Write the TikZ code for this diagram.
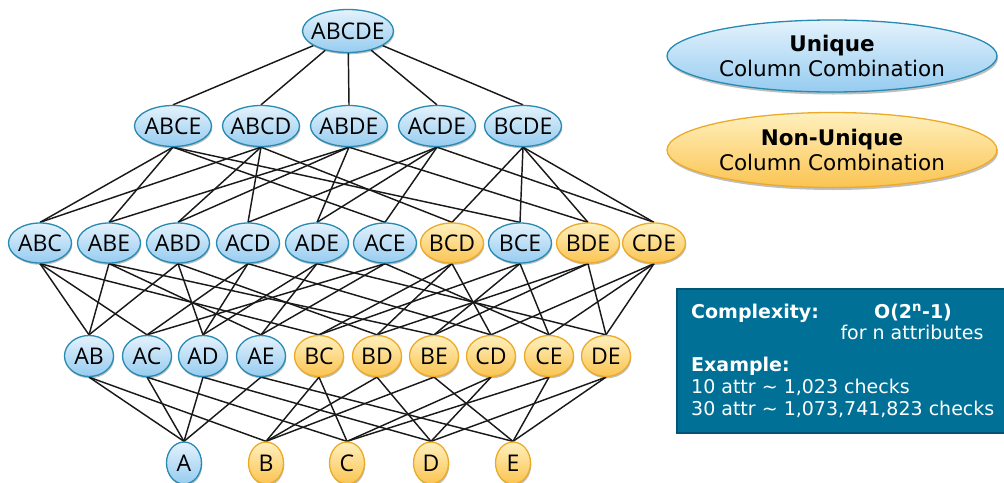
\documentclass[tikz,border=0pt]{standalone}
\usepackage{fontspec}
\setmainfont{DejaVu Sans}
\newfontfamily\nodefont{Open Sans}
\usetikzlibrary{shapes.geometric,shadows}
\definecolor{ubT}{RGB}{228,242,252}
\definecolor{ubD}{RGB}{150,204,240}
\definecolor{ubB}{RGB}{38,138,178}
\definecolor{yT}{RGB}{255,240,190}
\definecolor{yD}{RGB}{250,196,82}
\definecolor{yB}{RGB}{236,170,40}
\definecolor{boxfill}{RGB}{0,112,150}
\definecolor{boxline}{RGB}{0,84,116}
\pgfdeclarelayer{bg}
\pgfsetlayers{bg,main}
\begin{document}
\begin{tikzpicture}[x=1pt,y=-1pt,
  cc/.style={ellipse, draw, line width=1.3pt, inner xsep=-12pt, inner ysep=-6pt,
    font=\nodefont\fontsize{23}{26}\selectfont,
    drop shadow={shadow xshift=0.8pt, shadow yshift=-1.8pt, opacity=0.25, fill=black}},
  uq/.style={cc, draw=ubB, top color=ubT, bottom color=ubD},
  nu/.style={cc, draw=yB, top color=yT, bottom color=yD},
  wfive/.style={minimum width=91pt, minimum height=43pt},
  wfour/.style={minimum width=77pt, minimum height=41pt},
  wthree/.style={minimum width=63pt, minimum height=40pt},
  wtwo/.style={minimum width=49pt, minimum height=41pt},
  wone/.style={minimum width=35pt, minimum height=42pt},
  edge/.style={line width=1.45pt, draw=black!90},
  legend/.style={ellipse, line width=1.3pt, minimum width=330pt, align=center,
    font=\fontsize{21.5}{25.5}\selectfont, inner sep=0pt,
    drop shadow={shadow xshift=1pt, shadow yshift=-2.5pt, opacity=0.25, fill=black}},
  boxtxt/.style={text=white, inner sep=0pt, font=\fontsize{19}{22}\selectfont}
]
\useasboundingbox (0,0) rectangle (1004,482);

% level 5
\node[uq,wfive] (ABCDE) at (348,31) {ABCDE};
% level 4
\foreach \n/\x in {ABCE/173, ABCD/261, ABDE/349, ACDE/437, BCDE/523}
  \node[uq,wfour] (\n) at (\x,126) {\n};
% level 3
\foreach \n/\x/\s in {ABC/40/uq, ABE/109/uq, ABD/178/uq, ACD/248/uq, ADE/317/uq,
    ACE/385/uq, BCD/452/nu, BCE/520/uq, BDE/588/nu, CDE/654/nu}
  \node[\s,wthree] (\n) at (\x,243) {\n};
% level 2
\foreach \n/\x/\s in {AB/89/uq, AC/147/uq, AD/203/uq, AE/261/uq, BC/319/nu,
    BD/377/nu, BE/434/nu, CD/491/nu, CE/549/nu, DE/606/nu}
  \node[\s,wtwo] (\n) at (\x,356) {\n};
% level 1
\foreach \n/\x/\s in {A/184/uq, B/266/nu, C/347/nu, D/431/nu, E/513/nu}
  \node[\s,wone] (\n) at (\x,463) {\n};

\begin{pgfonlayer}{bg}
  \foreach \l in {ABCE,ABCD,ABDE,ACDE,BCDE}
    \draw[edge] (ABCDE) -- (\l.north);
  \foreach \u/\l in {ABCE/ABC, ABCE/ABE, ABCE/ACE, ABCE/BCE,
      ABCD/ABC, ABCD/ABD, ABCD/ACD, ABCD/BCD,
      ABDE/ABD, ABDE/ABE, ABDE/ADE, ABDE/BDE,
      ACDE/ACD, ACDE/ACE, ACDE/ADE, ACDE/CDE,
      BCDE/BCD, BCDE/BCE, BCDE/BDE, BCDE/CDE,
      ABC/AB, ABC/AC, ABC/BC, ABE/AB, ABE/AE, ABE/BE,
      ABD/AB, ABD/AD, ABD/BD, ACD/AC, ACD/AD, ACD/CD,
      ADE/AD, ADE/AE, ADE/DE, ACE/AC, ACE/AE, ACE/CE,
      BCD/BC, BCD/BD, BCD/CD, BCE/BC, BCE/BE, BCE/CE,
      BDE/BD, BDE/BE, BDE/DE, CDE/CD, CDE/CE, CDE/DE,
      AB/A, AB/B, AC/A, AC/C, AD/A, AD/D, AE/A, AE/E,
      BC/B, BC/C, BD/B, BD/D, BE/B, BE/E, CD/C, CD/D, CE/C, CE/E, DE/D, DE/E}
    \draw[edge] (\u.south) -- (\l.north);
\end{pgfonlayer}

% legend
\node[legend, draw=ubB, top color=ubT, bottom color=ubD, minimum height=72pt]
  (leguq) at (832,56) {\textbf{Unique}\\Column Combination};
\node[legend, draw=yB, top color=yT, bottom color=yD, minimum height=75pt]
  (legnu) at (832,150) {\textbf{Non-Unique}\\Column Combination};

% complexity box
\node[rectangle, fill=boxfill, draw=boxline, line width=1.5pt, anchor=north west,
  minimum width=330pt, minimum height=144pt, inner sep=0pt] (cbox) at (676,288) {};
\node[boxtxt, anchor=base west] (cplx) at (691,318) {\textbf{Complexity:}};
\node[boxtxt, anchor=base] (onot) at (913,318) {\textbf{O(2\textsuperscript{n}-1)}};
\node[boxtxt, anchor=base] (forn) at (912,339) {for n attributes};
\node[boxtxt, anchor=base west] (exm) at (691,371) {\textbf{Example:}};
\node[boxtxt, anchor=base west] (ex1) at (691,393) {10 attr \textasciitilde{} 1,023 checks};
\node[boxtxt, anchor=base west] (ex2) at (691,415) {30 attr \textasciitilde{} 1,073,741,823 checks};
\end{tikzpicture}
\end{document}
